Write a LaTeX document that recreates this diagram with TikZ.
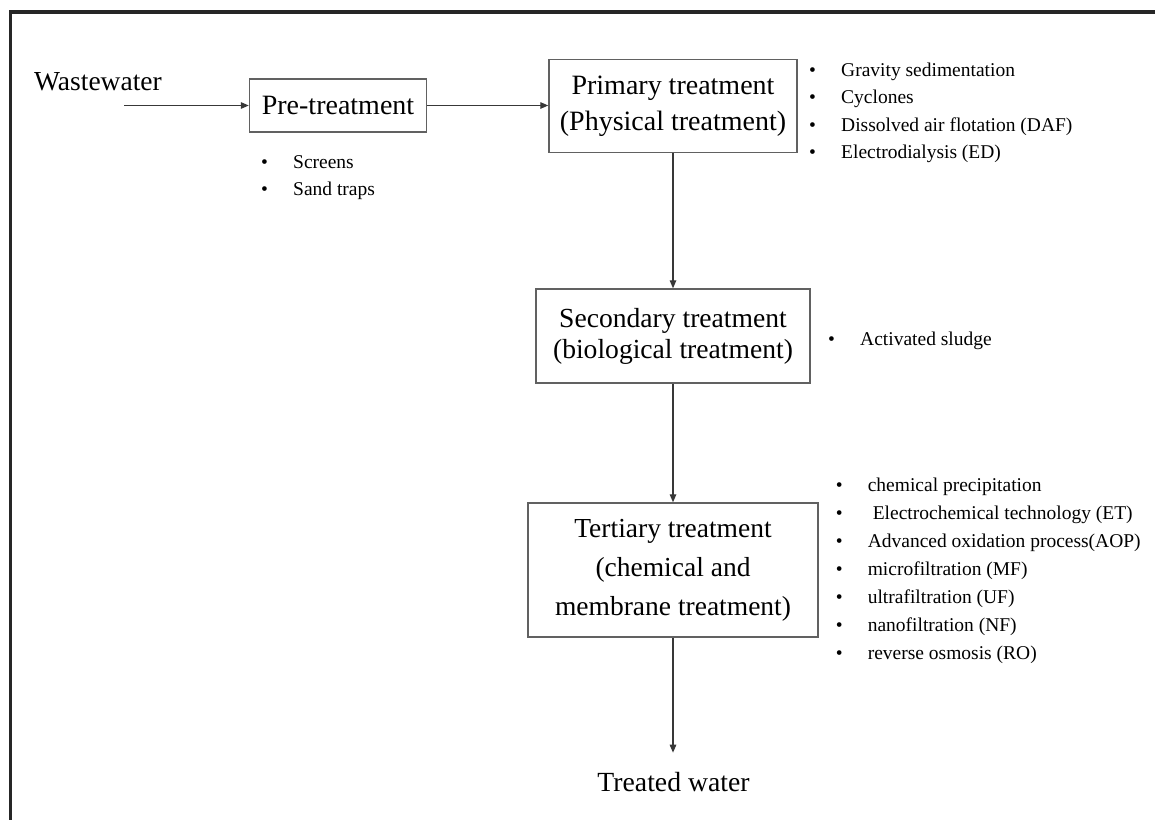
\documentclass[tikz,border=0pt]{standalone}
\usepackage{fontspec}
\setmainfont{Liberation Serif}
\usetikzlibrary{arrows.meta}
\newcommand\mybul{\makebox[32pt][l]{\textbullet}}
\begin{document}
\begin{tikzpicture}[x=1pt,y=-1pt,
  stagebox/.style={draw=black!62, line width=1.4pt, align=center, inner sep=0pt, text=black},
  flow/.style={draw=black!78, line width=1.3pt, -{Triangle[length=8pt,width=6.5pt]}},
  bulletlist/.style={anchor=base west, inner sep=0pt, font=\fontsize{19.5}{27.5}\selectfont, text=black},
  plaintext/.style={inner sep=0pt, text=black},
  frameline/.style={draw=black!85, line width=3.3pt, line join=miter}
]
\useasboundingbox (0,0) rectangle (1155,819);
\fill[white] (0,0) rectangle (1155,819);

% frame (top and left edges only)
\draw[frameline] (1160,12) -- (10.5,12) -- (10.5,830);

% texts
\node[plaintext, anchor=base west, font=\fontsize{27.5}{34}\selectfont] (ww) at (34,90) {Wastewater};
\node[plaintext, anchor=base, font=\fontsize{27.7}{34}\selectfont] (tw) at (673.5,791.7) {Treated water};

% stage boxes
\node[stagebox, minimum width=177pt, minimum height=53pt, font=\fontsize{28}{36}\selectfont] (pre) at (338,105.5) {Pre-treatment};
\node[stagebox, minimum width=248pt, minimum height=93.5pt, font=\fontsize{28}{36}\selectfont] (prim) at (673,106) {Primary treatment\\(Physical treatment)};
\node[stagebox, minimum width=274pt, minimum height=94pt, font=\fontsize{27.6}{31}\selectfont] (sec) at (673,336) {Secondary treatment\\(biological treatment)};
\node[stagebox, minimum width=290pt, minimum height=134pt, font=\fontsize{27.5}{39}\selectfont] (ter) at (673,570) {Tertiary treatment\\(chemical and\\membrane treatment)};

% bullet lists
\node[bulletlist] (prelist) at (261,168) {\begin{tabular}[t]{@{}l@{}}\mybul Screens\\\mybul Sand traps\end{tabular}};
\node[bulletlist] (primlist) at (809,76) {\begin{tabular}[t]{@{}l@{}}\mybul Gravity sedimentation\\\mybul Cyclones\\\mybul Dissolved air flotation (DAF)\\\mybul Electrodialysis (ED)\end{tabular}};
\node[bulletlist] (seclist) at (828,345) {\begin{tabular}[t]{@{}l@{}}\mybul Activated sludge\end{tabular}};
\node[bulletlist, font=\fontsize{19.5}{27.9}\selectfont] (terlist) at (835.6,491.7) {\begin{tabular}[t]{@{}l@{}}\mybul chemical precipitation\\\mybul\hspace{5pt}Electrochemical technology (ET)\\\mybul Advanced oxidation process(AOP)\\\mybul microfiltration (MF)\\\mybul ultrafiltration (UF)\\\mybul nanofiltration (NF)\\\mybul reverse osmosis (RO)\end{tabular}};

% connectors
\coordinate (wwstart) at (124,105.5);
\draw[flow] (wwstart) -- (pre.west);
\draw[flow] (pre.east) -- (pre.east -| prim.west);
\draw[flow] (prim.south) -- (sec.north);
\draw[flow] (sec.south) -- (ter.north);
\draw[flow, shorten >=19.6pt] (ter.south) -- (ter.south |- tw.north);
\end{tikzpicture}
\end{document}
